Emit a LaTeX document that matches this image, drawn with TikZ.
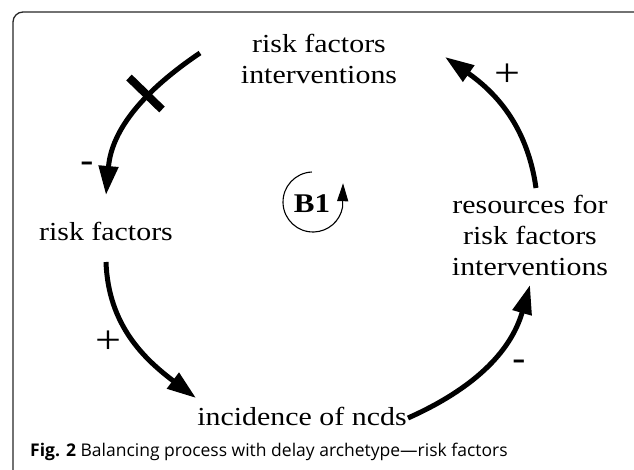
\documentclass[tikz,border=0pt]{standalone}
\usepackage{fontspec}
\setmainfont{Liberation Serif}
\newfontfamily\diagfont[FakeStretch=1.15]{Liberation Serif}
\newfontfamily\capfont{Open Sans}
\usetikzlibrary{arrows.meta,calc}

\begin{document}
\begin{tikzpicture}[x=1pt,y=1pt,
  lbl/.style={font=\diagfont\fontsize{26}{31}\selectfont, inner sep=0pt, align=center},
  plus/.style={font=\diagfont\fontsize{40}{44}\selectfont, inner sep=0pt},
  minus/.style={font=\diagfont\bfseries\fontsize{34}{38}\selectfont, inner sep=0pt},
  link/.style={line width=5pt, -{Triangle[length=29pt,width=19pt]}},
  delaybar/.style={line width=8pt},
  loopline/.style={line width=1.1pt, -{Triangle[length=18pt,width=11pt]}},
  frame/.style={draw=black!85, line width=1.3pt, rounded corners=10pt}
]
\useasboundingbox (0,0) rectangle (634,469);
\begin{scope}
  \clip (0,0) rectangle (634,469);
  \draw[frame] (13,457) rectangle (660,-30);
\end{scope}

% variables of the loop
\node[lbl, anchor=north] (ti)  at (319,435) {risk factors\\interventions};
\node[lbl, anchor=base]  (rf)  at (106,229) {risk factors};
\node[lbl, anchor=base]  (inc) at (302,44)  {incidence of ncds};
\node[lbl, anchor=north] (res) at (530,274) {resources for\\risk factors\\interventions};

% loop marker
\node[font=\diagfont\bfseries\fontsize{27}{30}\selectfont, inner sep=0pt, anchor=base] (b1) at (312,256) {B1};
\coordinate (lc) at (313,267);
\draw[loopline] ([shift={(92:30)}]lc) arc[start angle=92, end angle=350, radius=30] -- ++(0.5,24);

% causal links
\draw[link] ([shift={(-119,-19)}]ti.north) to[out=214, in=85] ([shift={(0,45)}]rf.base);
\draw[link] ([shift={(0,-22)}]rf.base) to[out=272, in=143] ([shift={(-106,27)}]inc.base);
\draw[link] ([shift={(106,7)}]inc.base) to[out=24, in=254] ([shift={(0,-90)}]res.north);
\draw[link] ([shift={(6,7)}]res.north) to[out=98, in=325] ([shift={(126,-23)}]ti.north);

% delay mark across the first link
\coordinate (dly) at (145.5,375.5);
\draw[delaybar] ($(dly)+(-16.5,16)$) -- ($(dly)+(16.5,-16)$);

% link polarities
\node[minus] (m1) at (87,302) {-};
\node[plus]  (p1) at (108,127) {+};
\node[minus] (m2) at (519,104) {-};
\node[plus]  (p2) at (507,394) {+};

% caption
\node[anchor=base west, inner sep=0pt, font=\capfont\fontsize{17.5}{20}\selectfont] (cap) at (30,13)
  {\textbf{Fig. 2} Balancing process with delay archetype—risk factors};
\end{tikzpicture}
\end{document}
